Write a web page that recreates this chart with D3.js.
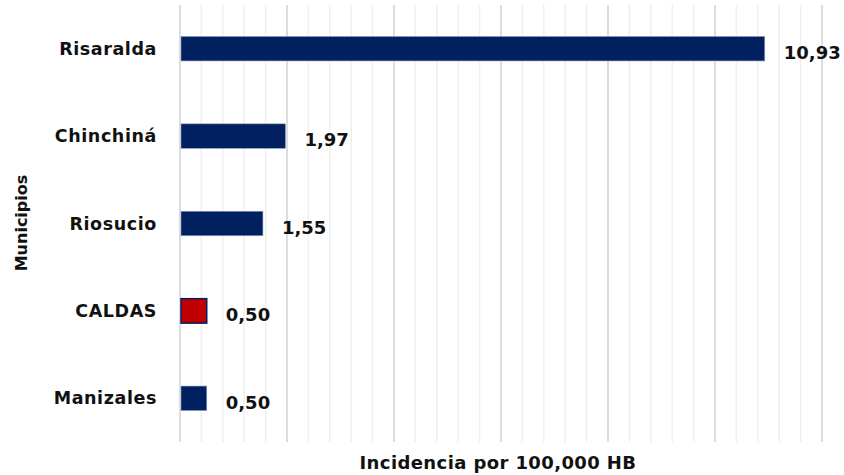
<!DOCTYPE html>
<html><head><meta charset="utf-8">
<script src="https://cdn.jsdelivr.net/npm/d3@7"></script>
<style>body{margin:0;background:#fff}svg{display:block}text{font-family:"DejaVu Sans",sans-serif;font-weight:bold}</style>
</head><body>
<svg id="c" width="844" height="475"></svg>
<script>
const categories = ["Risaralda","Chinchiná","Riosucio","CALDAS","Manizales"];
const values = [10.93, 1.97, 1.55, 0.50, 0.50];
const valueLabels = ["10,93","1,97","1,55","0,50","0,50"];
const highlight = ["CALDAS"];
const majorTicks = [0,2,4,6,8,10,12];
const minorTicks = d3.range(0, 12.001, 0.4);

const svg = d3.select("#c");
const x = d3.scaleLinear().domain([0,12]).range([180,822]);
const y = d3.scaleBand().domain(categories).range([5,442]).paddingInner(0.72).paddingOuter(0.36);

const g = svg.append("g");
g.selectAll("line.minor").data(minorTicks).join("line").attr("class","minor")
  .attr("x1",d=>x(d)).attr("x2",d=>x(d)).attr("y1",5).attr("y2",442)
  .attr("stroke","#efefef").attr("stroke-width",1.5);
g.selectAll("line.major").data(majorTicks).join("line").attr("class","major")
  .attr("x1",d=>x(d)).attr("x2",d=>x(d)).attr("y1",5).attr("y2",442)
  .attr("stroke","#d6d6d6").attr("stroke-width",1.5);

svg.selectAll("rect.bar").data(categories).join("rect").attr("class","bar")
  .attr("x",x(0)+1).attr("y",d=>y(d)).attr("height",y.bandwidth())
  .attr("width",(d,i)=>x(values[i])-x(0)-1)
  .attr("fill",d=>highlight.includes(d)?"#c00000":"#002060")
  .attr("stroke",d=>highlight.includes(d)?"#002060":"#8a9cc0")
  .attr("stroke-width",d=>highlight.includes(d)?1.5:0.6);

svg.selectAll("text.val").data(categories).join("text").attr("class","val")
  .attr("x",(d,i)=>x(values[i])+19).attr("y",d=>y(d)+y.bandwidth()/2+4)
  .attr("dy","0.35em").attr("font-size",18).attr("fill","#111")
  .text((d,i)=>valueLabels[i]);

svg.selectAll("text.cat").data(categories).join("text").attr("class","cat")
  .attr("x",157).attr("y",d=>y(d)+y.bandwidth()/2).attr("dy","0.35em")
  .attr("text-anchor","end").attr("font-size",17.5).attr("letter-spacing",0.6).attr("fill","#111")
  .text(d=>d);

svg.append("text").attr("x",498).attr("y",463).attr("dy","0.35em").attr("text-anchor","middle")
  .attr("font-size",18).attr("letter-spacing",0.4).attr("fill","#111").text("Incidencia por 100,000 HB");
svg.append("text").attr("transform","translate(21,223) rotate(-90)").attr("dy","0.35em")
  .attr("text-anchor","middle").attr("font-size",16).attr("fill","#111").text("Municipios");
</script>
</body></html>
